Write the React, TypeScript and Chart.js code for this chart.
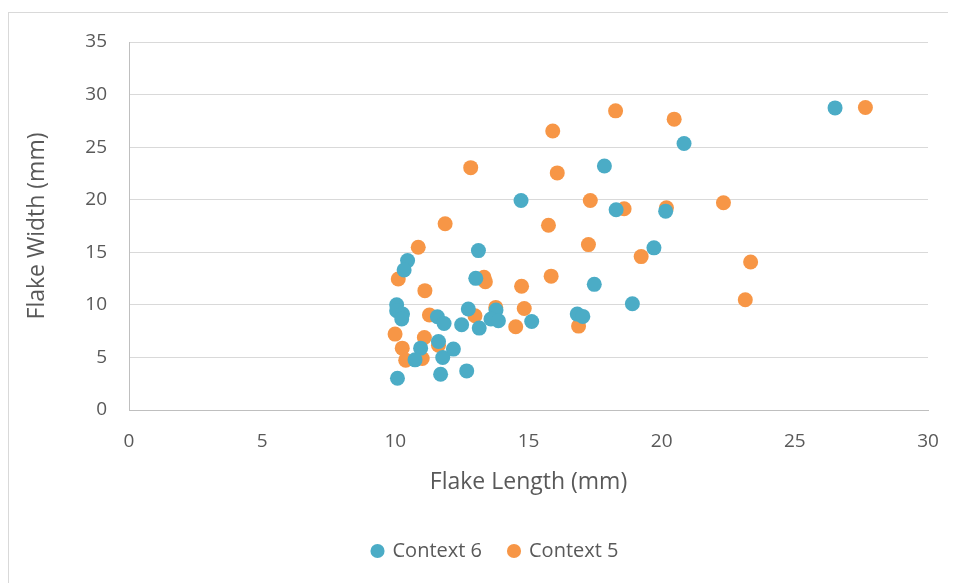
import React, { useEffect, useRef } from "react";
import { Chart, registerables } from "chart.js";

Chart.register(...registerables);

const context6X = [10.46, 10.33, 13.12, 13.02, 10.05, 10.05, 10.27, 10.24, 11.58, 11.83, 12.49, 12.74, 13.15, 13.78, 13.59, 13.87, 15.12, 11.62, 10.95, 12.18, 11.78, 10.74, 10.08, 11.70, 12.68, 14.72, 20.84, 17.85, 18.29, 20.15, 19.71, 17.47, 18.90, 16.83, 17.04, 26.51];
const context6Y = [14.21, 13.32, 15.16, 12.52, 10.01, 9.44, 9.12, 8.65, 8.87, 8.23, 8.11, 9.60, 7.79, 9.50, 8.65, 8.49, 8.42, 6.51, 5.88, 5.79, 4.99, 4.77, 3.02, 3.40, 3.72, 19.93, 25.34, 23.20, 19.04, 18.91, 15.42, 11.95, 10.11, 9.12, 8.90, 28.73];

const context5X = [10.86, 10.11, 11.11, 11.28, 9.99, 11.09, 10.26, 11.62, 10.39, 11.01, 13.33, 13.38, 14.74, 15.85, 12.99, 13.77, 14.84, 14.52, 11.87, 15.75, 12.83, 16.08, 18.27, 20.47, 15.91, 17.32, 18.59, 20.18, 22.32, 17.25, 19.23, 23.34, 23.14, 16.88, 27.65];
const context5Y = [15.48, 12.46, 11.35, 9.03, 7.22, 6.90, 5.88, 6.17, 4.74, 4.90, 12.62, 12.20, 11.77, 12.73, 8.96, 9.76, 9.66, 7.92, 17.71, 17.57, 23.05, 22.55, 28.45, 27.66, 26.54, 19.93, 19.14, 19.23, 19.71, 15.73, 14.59, 14.08, 10.49, 7.98, 28.77];

const seriesNames = ["Context 6", "Context 5"];
const xTitle = "Flake Length (mm)";
const yTitle = "Flake Width (mm)";

const BLUE = "#4BACC6";
const ORANGE = "#F79646";
const FONT = "'Open Sans', sans-serif";
const TEXT = "#595959";

function toPoints(xs: number[], ys: number[]) {
  return xs.map((x, i) => ({ x, y: ys[i] }));
}

export default function App() {
  const ref = useRef<HTMLCanvasElement | null>(null);

  useEffect(() => {
    if (!ref.current) return;
    const chart = new Chart(ref.current, {
      type: "scatter",
      data: {
        datasets: [
          {
            label: seriesNames[0],
            data: toPoints(context6X, context6Y),
            backgroundColor: BLUE,
            borderColor: BLUE,
            borderWidth: 0,
            pointRadius: 7.5,
            pointStyle: "circle",
          },
          {
            label: seriesNames[1],
            data: toPoints(context5X, context5Y),
            backgroundColor: ORANGE,
            borderColor: ORANGE,
            borderWidth: 0,
            pointRadius: 7.5,
            pointStyle: "circle",
          },
        ],
      },
      options: {
        responsive: false,
        animation: false,
        layout: { padding: { left: 54, top: 29, right: 28, bottom: 12 } },
        plugins: {
          tooltip: { enabled: false },
          legend: {
            position: "bottom",
            labels: {
              usePointStyle: true,
              pointStyle: "circle",
              boxWidth: 10,
              boxHeight: 10,
              padding: 27,
              color: TEXT,
              font: { family: FONT, size: 20 },
            },
          },
        },
        scales: {
          x: {
            type: "linear",
            min: 0,
            max: 30,
            ticks: { stepSize: 5, padding: 0, color: TEXT, font: { family: FONT, size: 19 } },
            grid: {
              display: true,
              drawOnChartArea: false,
              drawTicks: true,
              tickLength: 20,
              tickColor: "rgba(0,0,0,0)",
              color: "rgba(0,0,0,0)",
            },
            border: { display: true, color: "#bfbfbf", width: 1 },
            title: {
              display: true,
              text: xTitle,
              color: TEXT,
              font: { family: FONT, size: 23 },
              padding: { top: 0, bottom: 18 },
            },
            afterFit: (s: any) => {
              s.height = 104;
            },
          },
          y: {
            type: "linear",
            min: 0,
            max: 35,
            ticks: { stepSize: 5, padding: 0, color: TEXT, font: { family: FONT, size: 19 } },
            grid: {
              color: "#d9d9d9",
              lineWidth: 1,
              drawTicks: true,
              tickLength: 22,
              tickColor: "rgba(0,0,0,0)",
            },
            border: { display: true, color: "#bfbfbf", width: 1 },
            title: {
              display: true,
              text: yTitle,
              color: TEXT,
              font: { family: FONT, size: 23 },
              padding: { top: -39.8, bottom: 0 },
            },
            afterFit: (s: any) => {
              s.width = 66;
            },
          },
        },
      },
    });
    return () => chart.destroy();
  }, []);

  return (
    <div
      style={{
        marginTop: 4,
        width: 948,
        height: 571,
        borderTop: "1px solid #d9d9d9",
        borderLeft: "1px solid #d9d9d9",
        boxSizing: "border-box",
        background: "#fff",
      }}
    >
      <canvas ref={ref} width={947} height={570} style={{ display: "block" }} />
    </div>
  );
}
